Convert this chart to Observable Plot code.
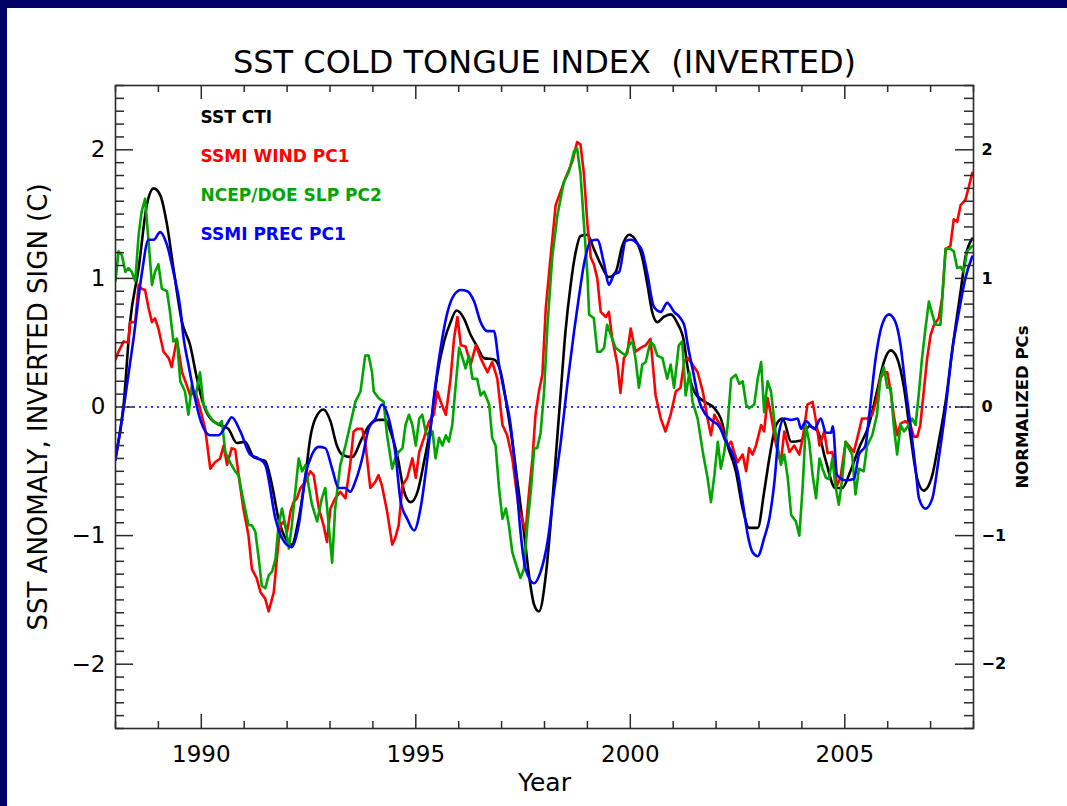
<!DOCTYPE html>
<html><head><meta charset="utf-8">
<script src="https://cdn.jsdelivr.net/npm/d3@7"></script>
<script src="https://cdn.jsdelivr.net/npm/@observablehq/plot@0.6"></script>
<style>
html,body{margin:0;padding:0;background:#000066;width:1067px;height:806px;overflow:hidden}
#panel{position:absolute;left:7px;top:8px;width:1060px;height:798px;background:#fff}
</style></head><body><div id="panel"></div>
<script>
// ---- labels ----
const titleText = "SST COLD TONGUE INDEX  (INVERTED)";
const xLabel = "Year";
const yLabelLeft = "SST ANOMALY, INVERTED SIGN (C)";
const yLabelRight = "NORMALIZED PCs";
const seriesNames = ["SST CTI", "SSMI WIND PC1", "NCEP/DOE SLP PC2", "SSMI PREC PC1"];
const seriesColors = ["#000000", "#ff0000", "#00a500", "#0000ff"];
const xMajorTicks = [1990, 1995, 2000, 2005];
const yMajorTicks = [-2, -1, 0, 1, 2];

// ---- SST CTI (black) ----
const ctiYears = [1988.0,1988.19,1988.34,1988.54,1988.73,1988.89,1989.04,1989.2,1989.35,1989.55,1989.74,1989.9,1990.05,1990.21,1990.44,1990.63,1990.83,1991.02,1991.22,1991.4,1991.49,1991.65,1991.8,1991.96,1992.11,1992.27,1992.43,1992.54,1992.66,1992.85,1993.01,1993.16,1993.28,1993.51,1993.75,1993.9,1994.13,1994.29,1994.41,1994.57,1994.73,1994.88,1995.04,1995.19,1995.35,1995.5,1995.66,1995.81,1995.95,1996.12,1996.28,1996.43,1996.59,1996.82,1996.98,1997.13,1997.25,1997.37,1997.52,1997.64,1997.76,1997.87,1998.03,1998.14,1998.26,1998.38,1998.49,1998.61,1998.73,1998.84,1999.0,1999.15,1999.31,1999.5,1999.66,1999.81,1999.97,2000.12,2000.28,2000.4,2000.51,2000.63,2000.78,2000.94,2001.1,2001.25,2001.34,2001.49,2001.69,2001.96,2002.11,2002.27,2002.46,2002.62,2002.77,2002.97,2003.12,2003.24,2003.4,2003.55,2003.75,2003.98,2004.17,2004.37,2004.55,2004.78,2004.94,2005.13,2005.33,2005.56,2005.75,2005.91,2006.07,2006.22,2006.38,2006.53,2006.69,2006.84,2007.04,2007.19,2007.35,2007.54,2007.7,2007.81,2007.97];
const ctiValues = [-0.40,0.02,0.66,1.08,1.57,1.70,1.65,1.42,1.08,0.66,0.48,0.22,0.02,-0.09,-0.14,-0.17,-0.28,-0.27,-0.39,-0.41,-0.42,-0.61,-0.87,-1.02,-1.07,-0.87,-0.53,-0.24,-0.09,-0.02,-0.11,-0.30,-0.37,-0.39,-0.24,-0.15,-0.10,-0.10,-0.19,-0.38,-0.66,-0.74,-0.66,-0.43,-0.14,0.25,0.51,0.66,0.75,0.69,0.56,0.47,0.38,0.37,0.27,-0.01,-0.27,-0.58,-0.97,-1.31,-1.54,-1.59,-1.31,-0.92,-0.40,0.12,0.59,0.95,1.21,1.33,1.34,1.23,1.11,1.01,1.05,1.25,1.34,1.30,1.16,0.95,0.74,0.66,0.70,0.72,0.65,0.51,0.30,0.12,0.05,-0.01,-0.09,-0.30,-0.50,-0.79,-0.94,-0.94,-0.66,-0.40,-0.14,-0.09,-0.27,-0.26,-0.15,-0.19,-0.41,-0.63,-0.63,-0.50,-0.32,-0.14,0.12,0.35,0.44,0.38,0.15,-0.22,-0.56,-0.65,-0.53,-0.27,0.04,0.53,0.90,1.16,1.31];

// ---- SSMI WIND PC1 (red) ----
const windYears = [1988.0,1988.07,1988.19,1988.3,1988.34,1988.46,1988.54,1988.61,1988.69,1988.77,1988.85,1988.92,1989.0,1989.12,1989.24,1989.31,1989.43,1989.55,1989.66,1989.74,1989.86,1989.97,1990.09,1990.21,1990.32,1990.44,1990.52,1990.6,1990.71,1990.79,1990.87,1990.98,1991.1,1991.18,1991.29,1991.38,1991.49,1991.57,1991.69,1991.77,1991.84,1991.92,1992.0,1992.08,1992.15,1992.23,1992.31,1992.43,1992.54,1992.62,1992.74,1992.85,1992.93,1993.01,1993.12,1993.24,1993.36,1993.47,1993.55,1993.63,1993.75,1993.82,1993.94,1994.06,1994.13,1994.21,1994.33,1994.45,1994.52,1994.6,1994.69,1994.8,1994.92,1995.0,1995.08,1995.19,1995.31,1995.42,1995.5,1995.58,1995.7,1995.81,1995.89,1995.97,1996.05,1996.16,1996.28,1996.4,1996.51,1996.67,1996.78,1996.9,1997.02,1997.13,1997.25,1997.33,1997.41,1997.48,1997.56,1997.64,1997.72,1997.79,1997.87,1997.95,1998.03,1998.14,1998.26,1998.38,1998.49,1998.65,1998.76,1998.84,1998.92,1999.0,1999.08,1999.15,1999.23,1999.31,1999.43,1999.5,1999.58,1999.7,1999.77,1999.85,1999.93,2000.01,2000.12,2000.24,2000.36,2000.47,2000.59,2000.71,2000.82,2000.94,2001.06,2001.17,2001.26,2001.34,2001.45,2001.57,2001.69,2001.8,2001.88,2001.96,2002.04,2002.11,2002.19,2002.27,2002.35,2002.42,2002.5,2002.62,2002.7,2002.77,2002.85,2002.93,2003.05,2003.12,2003.2,2003.28,2003.4,2003.51,2003.59,2003.71,2003.82,2003.94,2004.02,2004.13,2004.25,2004.33,2004.41,2004.52,2004.6,2004.71,2004.82,2004.9,2005.02,2005.09,2005.21,2005.33,2005.4,2005.52,2005.64,2005.75,2005.83,2005.91,2005.99,2006.07,2006.14,2006.22,2006.3,2006.41,2006.53,2006.61,2006.69,2006.76,2006.84,2006.92,2007.0,2007.08,2007.19,2007.27,2007.35,2007.46,2007.54,2007.62,2007.7,2007.81,2007.89,2007.97];
const windValues = [0.37,0.43,0.51,0.50,0.66,0.66,0.95,0.92,0.91,0.77,0.66,0.69,0.61,0.43,0.38,0.31,0.53,0.27,0.17,0.09,0.12,-0.01,-0.17,-0.48,-0.43,-0.40,-0.30,-0.45,-0.32,-0.33,-0.53,-0.79,-1.00,-1.26,-1.33,-1.44,-1.49,-1.59,-1.44,-1.15,-0.92,-0.89,-0.97,-0.81,-0.74,-0.71,-0.63,-0.58,-0.50,-0.53,-0.79,-0.92,-1.05,-0.79,-0.71,-0.66,-0.71,-0.45,-0.19,-0.17,-0.17,-0.27,-0.63,-0.58,-0.53,-0.61,-0.81,-1.07,-1.02,-0.92,-0.61,-0.55,-0.40,-0.55,-0.35,-0.24,-0.11,-0.06,0.12,0.04,-0.06,0.22,0.53,0.70,0.48,0.47,0.33,0.48,0.38,0.27,0.35,0.22,-0.14,-0.22,-0.40,-0.61,-0.81,-0.87,-0.97,-0.66,-0.40,-0.06,0.12,0.25,0.77,1.16,1.57,1.68,1.78,1.91,2.06,2.04,1.81,1.42,1.16,1.11,1.00,0.74,0.70,0.74,0.53,0.33,0.11,0.38,0.42,0.61,0.43,0.46,0.48,0.53,0.09,-0.09,-0.19,-0.06,0.12,0.15,0.36,0.38,0.33,0.27,0.12,-0.09,-0.22,-0.06,-0.11,-0.14,-0.24,-0.30,-0.27,-0.35,-0.43,-0.37,-0.50,-0.32,-0.37,-0.30,-0.14,-0.19,0.07,-0.06,-0.30,-0.43,-0.19,-0.35,-0.30,-0.37,-0.24,0.02,0.04,-0.11,-0.30,-0.19,-0.36,-0.35,-0.61,-0.55,-0.27,-0.30,-0.35,-0.19,-0.09,-0.09,-0.06,0.07,0.22,0.27,0.27,0.12,-0.06,-0.22,-0.13,-0.11,-0.14,-0.23,-0.23,-0.14,0.12,0.38,0.56,0.64,0.69,0.85,1.23,1.25,1.46,1.44,1.57,1.61,1.71,1.82];

// ---- NCEP/DOE SLP PC2 (green) ----
const slpYears = [1988.0,1988.07,1988.15,1988.23,1988.3,1988.38,1988.46,1988.54,1988.61,1988.69,1988.77,1988.85,1988.92,1989.0,1989.08,1989.2,1989.27,1989.35,1989.43,1989.51,1989.62,1989.7,1989.78,1989.86,1989.97,1990.05,1990.17,1990.28,1990.4,1990.48,1990.56,1990.67,1990.79,1990.87,1990.94,1991.02,1991.1,1991.18,1991.26,1991.34,1991.41,1991.49,1991.57,1991.65,1991.73,1991.8,1991.88,1991.96,1992.04,1992.11,1992.19,1992.27,1992.35,1992.43,1992.5,1992.58,1992.7,1992.81,1992.89,1992.97,1993.05,1993.12,1993.24,1993.36,1993.47,1993.59,1993.71,1993.82,1993.9,1993.98,1994.02,1994.13,1994.25,1994.33,1994.45,1994.52,1994.6,1994.69,1994.76,1994.84,1994.92,1995.0,1995.08,1995.15,1995.23,1995.31,1995.39,1995.46,1995.54,1995.62,1995.7,1995.77,1995.85,1995.93,1996.01,1996.09,1996.16,1996.24,1996.32,1996.43,1996.51,1996.59,1996.71,1996.78,1996.86,1996.94,1997.02,1997.1,1997.17,1997.25,1997.37,1997.44,1997.52,1997.6,1997.68,1997.76,1997.83,1997.91,1997.99,1998.07,1998.18,1998.3,1998.45,1998.57,1998.69,1998.76,1998.84,1998.92,1999.0,1999.04,1999.15,1999.23,1999.31,1999.39,1999.46,1999.58,1999.66,1999.77,1999.89,1999.97,2000.05,2000.12,2000.2,2000.28,2000.36,2000.47,2000.55,2000.63,2000.75,2000.86,2000.94,2001.02,2001.13,2001.21,2001.29,2001.38,2001.45,2001.57,2001.69,2001.8,2001.88,2001.96,2002.04,2002.11,2002.19,2002.27,2002.35,2002.46,2002.54,2002.62,2002.7,2002.77,2002.89,2002.97,2003.05,2003.12,2003.2,2003.28,2003.4,2003.51,2003.59,2003.67,2003.75,2003.86,2003.94,2004.02,2004.09,2004.17,2004.25,2004.33,2004.41,2004.48,2004.56,2004.63,2004.71,2004.78,2004.86,2004.94,2005.02,2005.09,2005.17,2005.25,2005.33,2005.44,2005.52,2005.64,2005.75,2005.83,2005.91,2005.99,2006.07,2006.14,2006.22,2006.3,2006.38,2006.49,2006.57,2006.65,2006.73,2006.8,2006.88,2006.96,2007.04,2007.11,2007.23,2007.31,2007.35,2007.46,2007.54,2007.62,2007.7,2007.77,2007.85,2007.97];
const slpValues = [0.98,1.21,1.18,1.05,1.08,1.05,0.98,1.34,1.52,1.62,1.29,0.95,1.05,1.11,0.92,0.90,0.74,0.51,0.53,0.20,0.12,-0.06,0.17,0.07,0.27,0.02,-0.06,-0.11,-0.14,-0.11,-0.35,-0.43,-0.50,-0.53,-0.66,-0.79,-0.92,-0.92,-0.97,-1.18,-1.39,-1.41,-1.31,-1.28,-1.18,-0.92,-0.79,-0.92,-1.10,-0.92,-0.66,-0.40,-0.50,-0.45,-0.61,-0.76,-0.89,-0.71,-0.63,-0.92,-1.21,-0.79,-0.45,-0.30,-0.14,0.04,0.12,0.40,0.40,0.27,0.12,0.07,0.04,-0.22,-0.48,-0.40,-0.35,-0.32,-0.14,-0.06,-0.14,-0.30,-0.09,-0.06,-0.19,-0.24,-0.19,-0.40,-0.24,-0.30,-0.22,-0.27,-0.14,0.17,0.46,0.38,0.30,0.40,0.22,0.22,0.09,0.12,0.02,-0.24,-0.30,-0.63,-0.87,-0.79,-0.92,-1.13,-1.26,-1.33,-1.26,-0.92,-0.66,-0.32,-0.32,-0.20,0.12,0.64,1.16,1.49,1.75,1.83,1.99,2.01,1.81,1.42,1.03,0.72,0.69,0.43,0.43,0.46,0.64,0.53,0.46,0.43,0.40,0.48,0.51,0.38,0.15,0.33,0.35,0.51,0.48,0.40,0.38,0.22,0.33,0.15,0.48,0.51,0.09,0.27,0.04,-0.09,-0.35,-0.55,-0.74,-0.53,-0.27,-0.48,-0.35,-0.14,0.22,0.25,0.18,0.20,0.02,-0.01,0.02,0.22,0.35,-0.04,0.20,0.12,-0.24,-0.45,-0.37,-0.55,-0.84,-0.89,-1.00,-0.61,-0.14,-0.27,-0.53,-0.71,-0.40,-0.48,-0.55,-0.56,-0.40,-0.61,-0.76,-0.56,-0.27,-0.32,-0.37,-0.68,-0.48,-0.50,-0.30,-0.22,-0.06,0.22,0.31,0.15,0.15,-0.14,-0.37,-0.14,-0.19,-0.14,-0.09,-0.14,0.12,0.38,0.61,0.82,0.72,0.64,0.64,1.03,1.23,1.23,1.21,1.08,1.09,1.05,1.21,1.25];

// ---- SSMI PREC PC1 (blue) ----
const precYears = [1988.0,1988.19,1988.42,1988.61,1988.77,1988.89,1989.04,1989.2,1989.35,1989.51,1989.59,1989.7,1989.82,1989.97,1990.21,1990.4,1990.6,1990.71,1990.91,1991.14,1991.33,1991.49,1991.73,1991.88,1992.11,1992.27,1992.43,1992.58,1992.74,1992.89,1993.05,1993.2,1993.36,1993.47,1993.59,1993.75,1993.9,1994.06,1994.21,1994.37,1994.52,1994.65,1994.8,1994.96,1995.11,1995.27,1995.42,1995.58,1995.74,1995.89,1996.05,1996.2,1996.36,1996.51,1996.67,1996.82,1996.94,1997.06,1997.21,1997.33,1997.44,1997.56,1997.76,1997.91,1998.07,1998.22,1998.38,1998.53,1998.69,1998.8,1998.92,1999.08,1999.23,1999.39,1999.5,1999.62,1999.74,1999.89,2000.01,2000.16,2000.28,2000.4,2000.55,2000.71,2000.86,2001.02,2001.17,2001.27,2001.34,2001.45,2001.61,2001.76,2001.92,2002.07,2002.23,2002.39,2002.5,2002.62,2002.74,2002.85,2002.97,2003.12,2003.24,2003.36,2003.47,2003.59,2003.75,2003.9,2003.98,2004.09,2004.29,2004.44,2004.56,2004.68,2004.72,2004.82,2005.02,2005.21,2005.33,2005.48,2005.56,2005.72,2005.87,2006.03,2006.18,2006.3,2006.41,2006.53,2006.65,2006.73,2006.88,2007.04,2007.19,2007.35,2007.5,2007.66,2007.81,2007.97];
const precValues = [-0.41,-0.01,0.53,1.03,1.30,1.30,1.36,1.26,1.05,0.77,0.53,0.33,0.12,-0.09,-0.22,-0.22,-0.13,-0.08,-0.19,-0.37,-0.40,-0.45,-0.87,-1.02,-1.09,-0.92,-0.53,-0.37,-0.31,-0.32,-0.48,-0.63,-0.63,-0.66,-0.58,-0.40,-0.17,-0.09,0.02,-0.09,-0.35,-0.74,-0.87,-0.96,-0.79,-0.40,0.07,0.46,0.74,0.87,0.91,0.90,0.82,0.66,0.59,0.59,0.33,0.12,-0.14,-0.53,-0.97,-1.26,-1.37,-1.28,-1.05,-0.66,-0.27,0.17,0.59,0.85,1.11,1.29,1.30,1.11,0.95,1.03,1.05,1.29,1.30,1.27,1.21,1.03,0.78,0.74,0.81,0.74,0.69,0.62,0.48,0.30,0.04,-0.06,-0.11,-0.15,-0.27,-0.37,-0.50,-0.74,-1.00,-1.13,-1.16,-1.02,-0.87,-0.58,-0.19,-0.09,-0.10,-0.09,-0.17,-0.11,-0.17,-0.09,-0.20,-0.20,-0.15,-0.53,-0.57,-0.56,-0.37,-0.30,-0.09,0.38,0.64,0.72,0.66,0.48,0.17,-0.14,-0.48,-0.71,-0.79,-0.71,-0.40,-0.01,0.43,0.74,1.00,1.17];

const seriesYears = [ctiYears, windYears, slpYears, precYears];
const seriesValues = [ctiValues, windValues, slpValues, precValues];
const seriesCurves = ["monotone-x", "linear", "linear", "monotone-x"];

// ---- layout ----
const W = 1060, H = 798, mL = 108, mR = 94, mT = 77, mB = 78;
const innerW = W - mL - mR, innerH = H - mT - mB;
const FONT = '"DejaVu Sans", sans-serif';
const AX = "#2a2a2a";
const xMinorTicks = d3.range(1988, 2009).filter(v => !xMajorTicks.includes(v));
const yMinorTicks = d3.range(-25, 26).map(i => i / 10).filter(v => !yMajorTicks.includes(v));
const fmt = d => d < 0 ? "\u2212" + Math.abs(d) : String(d);

const marks = [];
marks.push(Plot.ruleY([0], {stroke: "#3c3cff", strokeWidth: 1.8, strokeDasharray: "2,4"}));
seriesValues.forEach((vals, i) => {
  marks.push(Plot.line(vals, {x: seriesYears[i], y: vals, stroke: seriesColors[i], strokeWidth: 2.6, curve: seriesCurves[i], clip: true}));
});
marks.push(Plot.frame({stroke: AX, strokeWidth: 1.6}));
// ticks (inward)
marks.push(Plot.ruleX(xMajorTicks, {x: d => d, insetTop: innerH - 14, stroke: AX, strokeWidth: 1.5}));
marks.push(Plot.ruleX(xMinorTicks, {x: d => d, insetTop: innerH - 7, stroke: AX, strokeWidth: 1.5}));
marks.push(Plot.ruleX(xMajorTicks, {x: d => d, insetBottom: innerH - 14, stroke: AX, strokeWidth: 1.5}));
marks.push(Plot.ruleX(xMinorTicks, {x: d => d, insetBottom: innerH - 7, stroke: AX, strokeWidth: 1.5}));
marks.push(Plot.ruleY(yMajorTicks, {y: d => d, insetRight: innerW - 18, stroke: AX, strokeWidth: 1.5}));
marks.push(Plot.ruleY(yMinorTicks, {y: d => d, insetRight: innerW - 9, stroke: AX, strokeWidth: 1.5}));
marks.push(Plot.ruleY(yMajorTicks, {y: d => d, insetLeft: innerW - 18, stroke: AX, strokeWidth: 1.5}));
marks.push(Plot.ruleY(yMinorTicks, {y: d => d, insetLeft: innerW - 9, stroke: AX, strokeWidth: 1.5}));
// tick labels
marks.push(Plot.text(xMajorTicks, {x: d => d, text: d => String(d), frameAnchor: "bottom", lineAnchor: "middle", dy: 26, fontSize: 23, fill: "#000", fontFamily: FONT}));
marks.push(Plot.text(yMajorTicks, {y: d => d, text: fmt, frameAnchor: "left", lineAnchor: "middle", dx: -10, textAnchor: "end", fontSize: 23, fill: "#000", fontFamily: FONT}));
marks.push(Plot.text(yMajorTicks, {y: d => d, text: fmt, frameAnchor: "right", lineAnchor: "middle", dx: 8, textAnchor: "start", fontSize: 16, fontWeight: "bold", fill: "#000", fontFamily: FONT}));
// titles
marks.push(Plot.text([titleText], {text: d => d, frameAnchor: "top", lineAnchor: "middle", textAnchor: "middle", dy: -23, fontSize: 32, fill: "#000", fontFamily: FONT}));
marks.push(Plot.text([xLabel], {text: d => d, frameAnchor: "bottom", lineAnchor: "middle", textAnchor: "middle", dy: 54, fontSize: 25, fill: "#000", fontFamily: FONT}));
marks.push(Plot.text([yLabelLeft], {text: d => d, frameAnchor: "left", lineAnchor: "middle", textAnchor: "middle", dx: -77, rotate: -90, fontSize: 26, fill: "#000", fontFamily: FONT}));
marks.push(Plot.text([yLabelRight], {text: d => d, frameAnchor: "right", lineAnchor: "middle", textAnchor: "middle", dx: 49, rotate: -90, fontSize: 16.5, fontWeight: "bold", fill: "#000", fontFamily: FONT}));
// legend
seriesNames.forEach((n, i) => {
  marks.push(Plot.text([n], {text: d => d, frameAnchor: "top-left", lineAnchor: "middle", dx: 85, dy: 32.5 + i * 38.7, textAnchor: "start", fontSize: 17, fontWeight: "bold", fill: seriesColors[i], fontFamily: FONT}));
});

const chart = Plot.plot({
  width: W, height: H,
  marginLeft: mL, marginRight: mR, marginTop: mT, marginBottom: mB,
  style: {background: "#fff", fontFamily: FONT, overflow: "visible"},
  x: {domain: [1988, 2008], axis: null},
  y: {domain: [-2.5, 2.5], axis: null},
  marks
});
document.getElementById("panel").appendChild(chart);
</script></body></html>
